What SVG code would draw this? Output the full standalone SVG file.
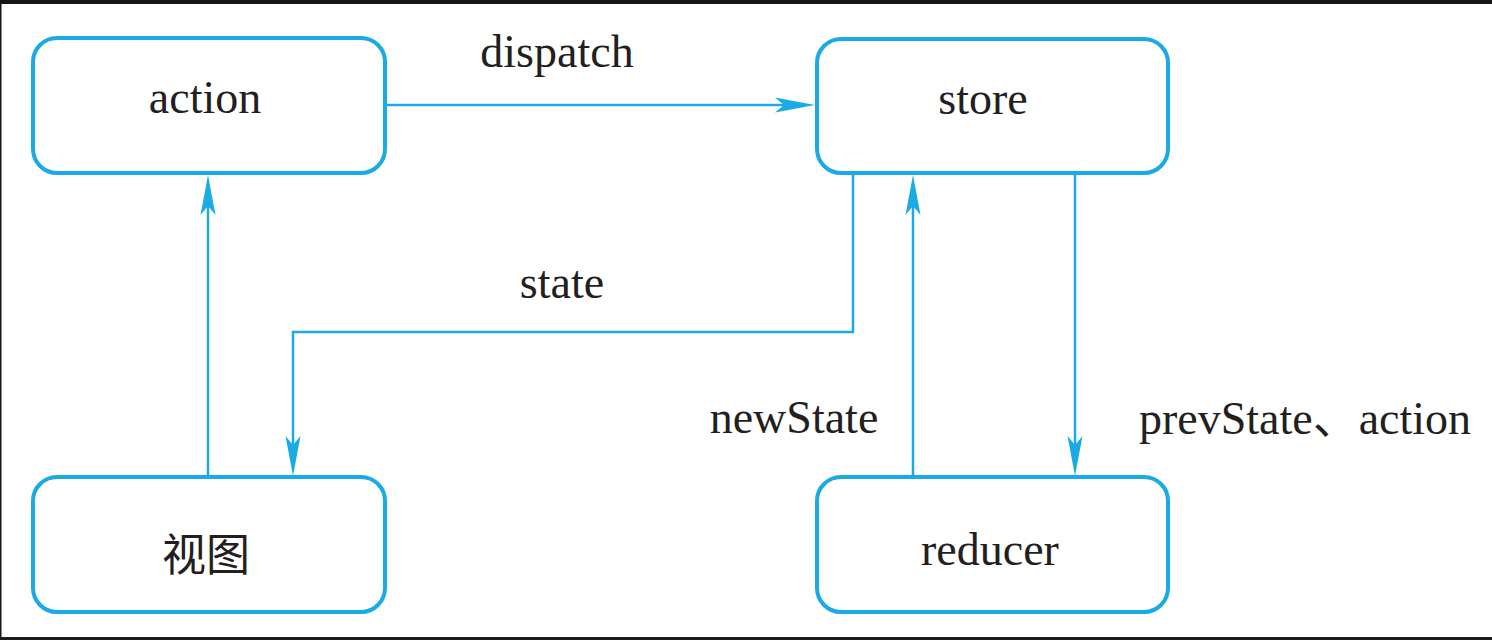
<svg xmlns="http://www.w3.org/2000/svg" width="1492" height="640" viewBox="0 0 1492 640">
  <style>
    .box { fill: #ffffff; stroke: #1aabe6; stroke-width: 4; }
    .conn { fill: none; stroke: #1aabe6; stroke-width: 2.5; }
    .t { font-family: "Liberation Serif", "Noto Sans CJK SC", serif; font-size: 46px; fill: #231f20; text-anchor: middle; }
    .cjk { font-family: "Noto Sans CJK SC", "Liberation Serif", sans-serif; font-size: 44px; fill: #231f20; text-anchor: middle; }
  </style>
  <defs>
    <marker id="arrow" markerUnits="userSpaceOnUse" viewBox="0 -8 40 16" markerWidth="40" markerHeight="16" refX="20" refY="0" orient="auto">
      <path d="M40,0 L0,-7.5 L9,0 L0,7.5 Z" fill="#1aabe6"/>
    </marker>
  </defs>
  <rect x="0" y="0" width="1492" height="640" fill="#ffffff"/>
  <rect x="0" y="0" width="1492" height="4" fill="#141618"/>
  <rect x="0" y="0" width="1.5" height="640" fill="#141618"/>
  <rect x="0" y="637" width="1492" height="3" fill="#1c1c1c"/>

  <g id="connectors">
    <path class="conn" d="M385,105 L795,105" marker-end="url(#arrow)"/>
    <path class="conn" d="M208,477 L208,195" marker-end="url(#arrow)"/>
    <path class="conn" d="M853,173 L853,332 L293,332 L293,456" marker-end="url(#arrow)"/>
    <path class="conn" d="M913,477 L913,195" marker-end="url(#arrow)"/>
    <path class="conn" d="M1075,173 L1075,456" marker-end="url(#arrow)"/>
    <text class="t" x="557" y="67">dispatch</text>
    <text class="t" x="562" y="298">state</text>
    <text class="t" x="794" y="433">newState</text>
    <text class="t" x="1305" y="434">prevState、action</text>
  </g>

  <g id="node-action">
    <rect class="box" x="33" y="38" width="352" height="135" rx="24" ry="24"/>
    <text class="t" x="205" y="113">action</text>
  </g>
  <g id="node-store">
    <rect class="box" x="817" y="39" width="351" height="134" rx="24" ry="24"/>
    <text class="t" x="983" y="114">store</text>
  </g>
  <g id="node-view">
    <rect class="box" x="33" y="477" width="352" height="135" rx="24" ry="24"/>
    <text class="cjk" x="206" y="571">视图</text>
  </g>
  <g id="node-reducer">
    <rect class="box" x="817" y="477" width="351" height="135" rx="24" ry="24"/>
    <text class="t" x="990" y="565">reducer</text>
  </g>
</svg>
